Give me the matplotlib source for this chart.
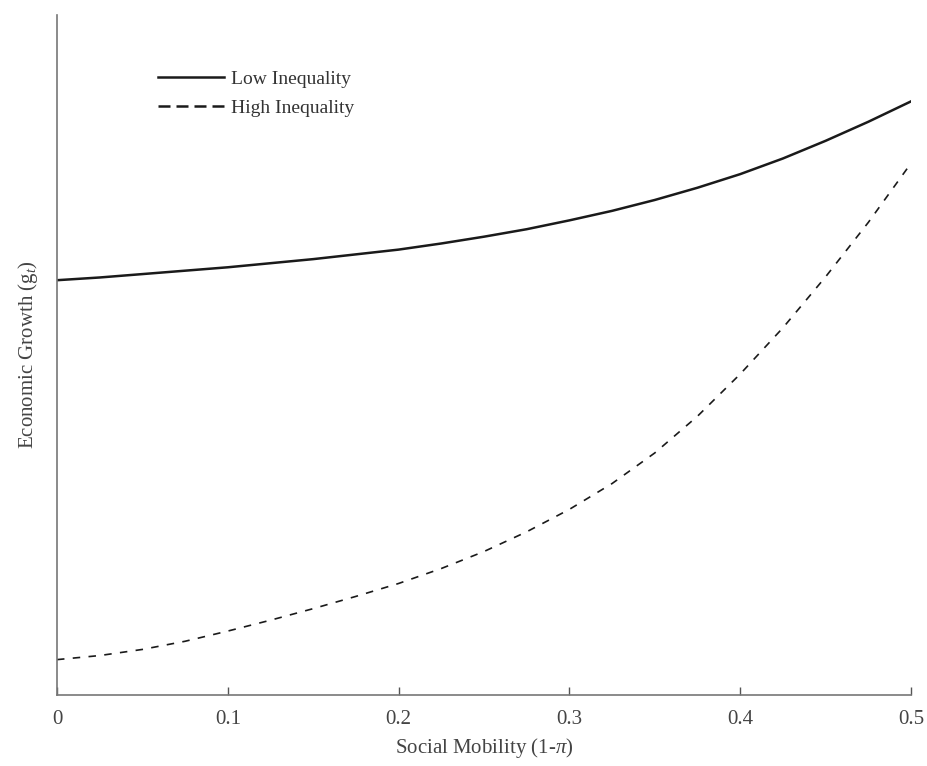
import matplotlib
matplotlib.use("Agg")
import matplotlib.pyplot as plt
import numpy as np

# values (y axis is unitless, 0 = bottom, 1 = top)
mobility = [0.0, 0.025, 0.05, 0.075, 0.1, 0.125, 0.15, 0.175, 0.2, 0.225, 0.25,
            0.275, 0.3, 0.325, 0.35, 0.375, 0.4, 0.425, 0.45, 0.475, 0.5]
growth_low = [0.610, 0.614, 0.619, 0.624, 0.629, 0.635, 0.641, 0.648, 0.655, 0.664, 0.674,
              0.685, 0.698, 0.712, 0.728, 0.746, 0.766, 0.789, 0.815, 0.843, 0.873]
growth_high = [0.052, 0.058, 0.067, 0.079, 0.094, 0.110, 0.127, 0.145, 0.164, 0.186, 0.211,
               0.240, 0.273, 0.311, 0.356, 0.410, 0.472, 0.540, 0.615, 0.695, 0.782]
xticks = [0, 0.1, 0.2, 0.3, 0.4, 0.5]
xtick_labels = ["0", "0.1", "0.2", "0.3", "0.4", "0.5"]

plt.rcParams['font.family'] = ['Liberation Serif', 'DejaVu Serif']
plt.rcParams['mathtext.fontset'] = 'custom'
plt.rcParams['mathtext.rm'] = 'Liberation Serif'
plt.rcParams['mathtext.it'] = 'Liberation Serif:italic'

fig = plt.figure(figsize=(9.28, 7.66), dpi=100)
ax = fig.add_axes([0.0614, 0.0927, 0.9203, 0.8877])

ax.plot(mobility, growth_low, color='#1a1a1a', lw=1.8, label='Low Inequality')
ax.plot(mobility, growth_high, color='#1a1a1a', lw=1.2, dashes=(4.5, 5), label='High Inequality')

ax.set_xlim(0, 0.5)
ax.set_ylim(0, 1)
ax.set_xticks(xticks)
ax.set_xticklabels(xtick_labels)
ax.set_yticks([])
ax.tick_params(axis='x', direction='in', length=6, width=1, colors='#555555',
               labelcolor='#444444', labelsize=15, pad=11)

for s in ['top', 'right']:
    ax.spines[s].set_visible(False)
for s in ['left', 'bottom']:
    ax.spines[s].set_color('#777777')
    ax.spines[s].set_linewidth(1.2)

ax.set_xlabel('Social Mobility (1-$\\pi$)', fontsize=15, color='#444444', labelpad=5)
ax.set_ylabel('Economic Growth (g$_t$)', fontsize=15, color='#444444', labelpad=12)

leg = ax.legend(loc='upper left', bbox_to_anchor=(0.098, 0.945), frameon=False,
                fontsize=14, handlelength=3.4, handletextpad=0.35, labelspacing=0.6,
                labelcolor='#333333')
# legend dashes drawn a bit heavier than the curve, as in the original
leg.get_lines()[1].set_linewidth(1.8)
leg.get_lines()[1].set_dashes((4.8, 2.4))

fig.savefig('out.png', dpi=100)
